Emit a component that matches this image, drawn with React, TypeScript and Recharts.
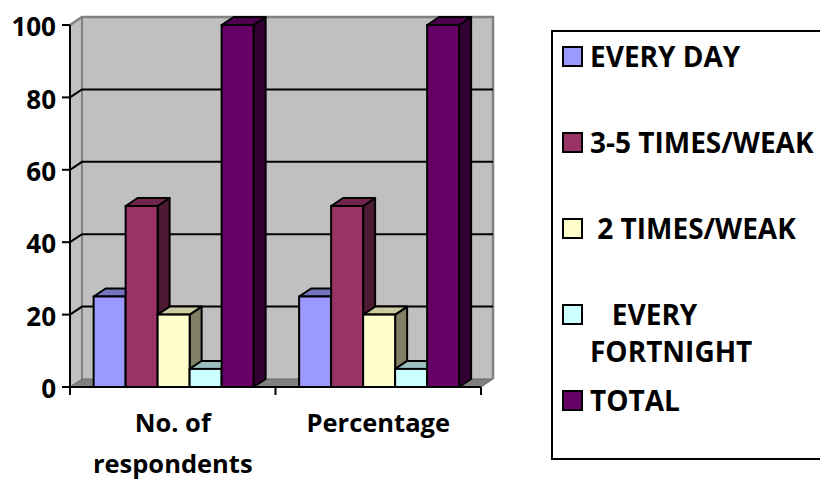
import React from 'react';
import { BarChart, Bar, XAxis, YAxis, CartesianGrid, Legend } from 'recharts';

const categories = ['No. of respondents', 'Percentage'];
const everyDay = [25, 25];
const threeToFiveTimes = [50, 50];
const twoTimes = [20, 20];
const everyFortnight = [5, 5];
const total = [100, 100];
const yTicks = [0, 20, 40, 60, 80, 100];

const series = [
  { key: 'everyDay', name: 'EVERY DAY', values: everyDay, front: '#9999FF', top: '#7373BF', side: '#4D4D80' },
  { key: 'threeToFive', name: '3-5 TIMES/WEAK', values: threeToFiveTimes, front: '#993366', top: '#73264D', side: '#4D1A33' },
  { key: 'twoTimes', name: ' 2 TIMES/WEAK', values: twoTimes, front: '#FFFFCC', top: '#CCCCA3', side: '#808066' },
  { key: 'fortnight', name: '   EVERY FORTNIGHT', values: everyFortnight, front: '#CCFFFF', top: '#99BFBF', side: '#668080' },
  { key: 'total', name: 'TOTAL', values: total, front: '#660066', top: '#4D004D', side: '#330033' },
];

const data = categories.map((category, i) => {
  const row: Record<string, string | number> = { category };
  series.forEach((s) => {
    row[s.key] = s.values[i];
  });
  return row;
});

// depth of the fake 3D extrusion
const DX = 12;
const DY = 8;

function Box3D(props: any) {
  const { x, y, width: w, height: h, fill, topFill, sideFill } = props;
  if (x == null || y == null || !w || h == null) return null;
  return (
    <g>
      <polygon
        points={`${x + w},${y} ${x + w + DX},${y - DY} ${x + w + DX},${y + h - DY} ${x + w},${y + h}`}
        fill={sideFill}
        stroke="#000"
        strokeWidth={2}
        strokeLinejoin="round"
      />
      <polygon
        points={`${x},${y} ${x + DX},${y - DY} ${x + w + DX},${y - DY} ${x + w},${y}`}
        fill={topFill}
        stroke="#000"
        strokeWidth={2}
        strokeLinejoin="round"
      />
      <rect x={x} y={y} width={w} height={h} fill={fill} stroke="#000" strokeWidth={2} />
    </g>
  );
}

// gray walls + floor, drawn once, then the grid lines bent onto the side and back wall
function WallLine(p: any) {
  const { x1, x2, y1, index } = p;
  const pts: number[] = p.horizontalPoints || [y1];
  const top = typeof p.y === 'number' ? p.y : Math.min(...pts);
  const bottom = typeof p.height === 'number' ? p.y + p.height : Math.max(...pts);
  const left = x1;
  const right = x2;
  const onEdge = Math.abs(y1 - top) < 0.5 || Math.abs(y1 - bottom) < 0.5;
  return (
    <g>
      {index === 0 && (
        <g>
          <polygon
            points={`${left},${top} ${left + DX},${top - DY} ${left + DX},${bottom - DY} ${left},${bottom}`}
            fill="#C0C0C0"
          />
          <rect x={left + DX} y={top - DY} width={right - left} height={bottom - top} fill="#C0C0C0" />
          <polygon
            points={`${left},${bottom} ${left + DX},${bottom - DY} ${right + DX},${bottom - DY} ${right},${bottom}`}
            fill="#808080"
            stroke="#666"
            strokeWidth={1}
          />
          <polyline
            points={`${left},${top} ${left + DX},${top - DY} ${right + DX},${top - DY} ${right + DX},${bottom - DY}`}
            fill="none"
            stroke="#808080"
            strokeWidth={2.5}
          />
          <line x1={left + DX} y1={top - DY} x2={left + DX} y2={bottom - DY} stroke="#808080" strokeWidth={2} />
        </g>
      )}
      {!onEdge && (
        <polyline
          points={`${left},${y1} ${left + DX},${y1 - DY} ${right + DX},${y1 - DY}`}
          fill="none"
          stroke="#000"
          strokeWidth={2}
        />
      )}
    </g>
  );
}

function wrapWords(text: string, maxChars: number) {
  const lines: string[] = [];
  let cur = '';
  text.split(' ').forEach((word) => {
    const next = cur ? `${cur} ${word}` : word;
    if (next.length > maxChars && cur) {
      lines.push(cur);
      cur = word;
    } else {
      cur = next;
    }
  });
  if (cur) lines.push(cur);
  return lines;
}

function CategoryTick(props: any) {
  const { x, y, payload, index } = props;
  const half = payload?.offset ?? 0;
  const lines = wrapWords(String(payload.value), 11);
  return (
    <g>
      <line x1={x - half} y1={y} x2={x - half} y2={y + 8} stroke="#000" strokeWidth={2} />
      {index === categories.length - 1 && (
        <line x1={x + half} y1={y} x2={x + half} y2={y + 8} stroke="#000" strokeWidth={2} />
      )}
      <text x={x} y={y + 45} textAnchor="middle" fontSize={25.5} fontWeight={700} fill="#000">
        {lines.map((line, i) => (
          <tspan key={i} x={x} dy={i === 0 ? 0 : 41}>
            {line}
          </tspan>
        ))}
      </text>
    </g>
  );
}

// legend drawn straight from the series list so it keeps their order
function LegendBox() {
  return (
    <div
      style={{
        width: 300,
        height: 430,
        border: '2px solid #000',
        boxSizing: 'border-box',
        paddingTop: 6,
        paddingLeft: 9,
        background: '#fff',
      }}
    >
      {series.map((s) => (
        <div key={s.key} style={{ height: 86, display: 'flex', alignItems: 'flex-start' }}>
          <span
            style={{
              width: 17,
              height: 17,
              marginTop: 8,
              marginRight: 7,
              flex: 'none',
              border: '2px solid #000',
              background: s.front,
            }}
          />
          <span
            style={{
              whiteSpace: 'pre-wrap',
              width: 235,
              lineHeight: '37px',
              fontSize: 28,
              fontWeight: 700,
              color: '#000',
            }}
          >
            {s.name}
          </span>
        </div>
      ))}
    </div>
  );
}

export default function App() {
  return (
    <div
      style={{
        position: 'absolute',
        left: 0,
        top: 0,
        width: 820,
        height: 479,
        overflow: 'hidden',
        background: '#fff',
        fontFamily: "'Open Sans', sans-serif",
      }}
    >
      <BarChart
        width={820}
        height={479}
        data={data}
        margin={{ top: 25, right: 339, bottom: 32, left: 0 }}
        barCategoryGap="11.5%"
        barGap={0}
      >
        <CartesianGrid vertical={false} horizontal={WallLine} />
        <XAxis
          dataKey="category"
          interval={0}
          height={60}
          tickSize={0}
          tickMargin={0}
          tickLine={false}
          axisLine={{ stroke: '#000', strokeWidth: 2 }}
          tick={<CategoryTick />}
        />
        <YAxis
          domain={[0, 100]}
          ticks={yTicks}
          width={70}
          tickSize={8}
          tickMargin={6}
          axisLine={{ stroke: '#000', strokeWidth: 2 }}
          tickLine={{ stroke: '#000', strokeWidth: 2 }}
          tick={{ fill: '#000', fontSize: 26, fontWeight: 700, dy: 2 }}
        />
        <Legend
          layout="horizontal"
          verticalAlign="middle"
          align="center"
          wrapperStyle={{ left: 551, top: 30, width: 300, height: 430 }}
          content={<LegendBox />}
        />
        {series.map((s) => (
          <Bar
            key={s.key}
            dataKey={s.key}
            name={s.name}
            fill={s.front}
            isAnimationActive={false}
            shape={(p: any) => <Box3D {...p} topFill={s.top} sideFill={s.side} />}
          />
        ))}
      </BarChart>
    </div>
  );
}
